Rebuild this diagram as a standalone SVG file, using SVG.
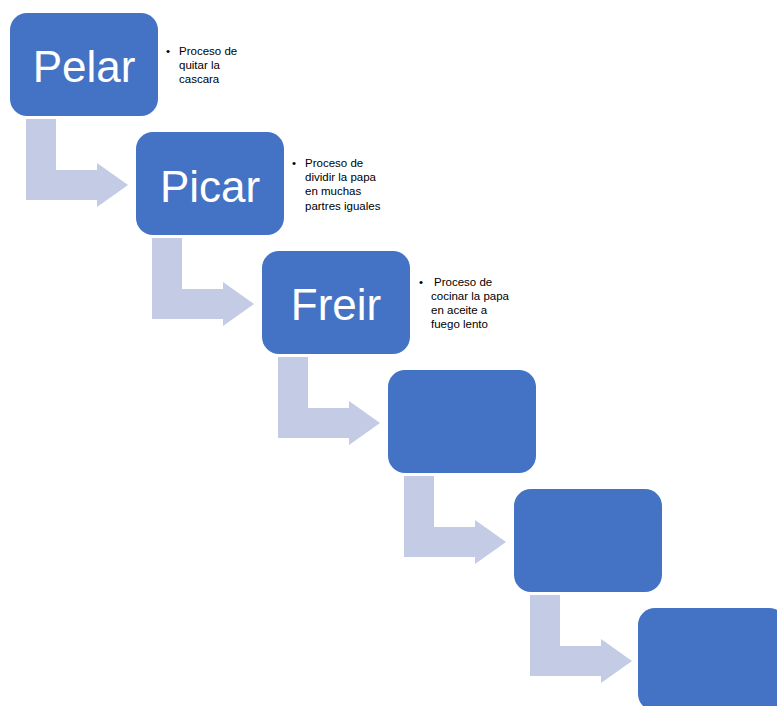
<svg xmlns="http://www.w3.org/2000/svg" width="777" height="706" viewBox="0 0 777 706">
  <style>
    .step { fill: #4472C4; }
    .bend { fill: #C3CBE5; }
    .title { font-family: "Liberation Sans", Arial, sans-serif; font-size: 44px; fill: #FFFFFF; text-anchor: middle; }
    .note { font-family: "Liberation Sans", Arial, sans-serif; font-size: 11.5px; fill: #000000; }
  </style>
  <defs>
    <path id="bentArrow" d="M26,119 H56 V170 H97 V163 L128,185 L97,207 V200 H26 Z"/>
  </defs>

  <!-- bent arrows between the steps -->
  <g id="connectors">
    <use href="#bentArrow" class="bend"/>
    <use href="#bentArrow" class="bend" transform="translate(126,119)"/>
    <use href="#bentArrow" class="bend" transform="translate(252,238)"/>
    <use href="#bentArrow" class="bend" transform="translate(378,357)"/>
    <use href="#bentArrow" class="bend" transform="translate(504,476)"/>
  </g>

  <g id="step-pelar">
    <rect class="step" x="10" y="13" width="148" height="103" rx="17"/>
    <text class="title" x="84" y="82">Pelar</text>
  </g>
  <g id="note-pelar">
    <text class="note"><tspan x="166" y="55">•</tspan><tspan x="179" y="55">Proceso de</tspan><tspan x="179" y="69">quitar la</tspan><tspan x="179" y="83">cascara</tspan></text>
  </g>

  <g id="step-picar">
    <rect class="step" x="136" y="132" width="148" height="103" rx="17"/>
    <text class="title" x="210" y="202">Picar</text>
  </g>
  <g id="note-picar">
    <text class="note"><tspan x="292" y="167">•</tspan><tspan x="305" y="167">Proceso de</tspan><tspan x="305" y="181">dividir la papa</tspan><tspan x="305" y="195">en muchas</tspan><tspan x="305" y="210">partres iguales</tspan></text>
  </g>

  <g id="step-freir">
    <rect class="step" x="262" y="251" width="148" height="103" rx="17"/>
    <text class="title" x="336" y="320">Freir</text>
  </g>
  <g id="note-freir">
    <text class="note"><tspan x="419" y="286">•</tspan><tspan x="434" y="286">Proceso de</tspan><tspan x="431" y="300">cocinar la papa</tspan><tspan x="431" y="314">en aceite a</tspan><tspan x="431" y="328">fuego lento</tspan></text>
  </g>

  <g id="step-4">
    <rect class="step" x="388" y="370" width="148" height="103" rx="17"/>
  </g>
  <g id="step-5">
    <rect class="step" x="514" y="489" width="148" height="103" rx="17"/>
  </g>
  <g id="step-6">
    <rect class="step" x="638" y="608" width="148" height="103" rx="17"/>
  </g>
</svg>
